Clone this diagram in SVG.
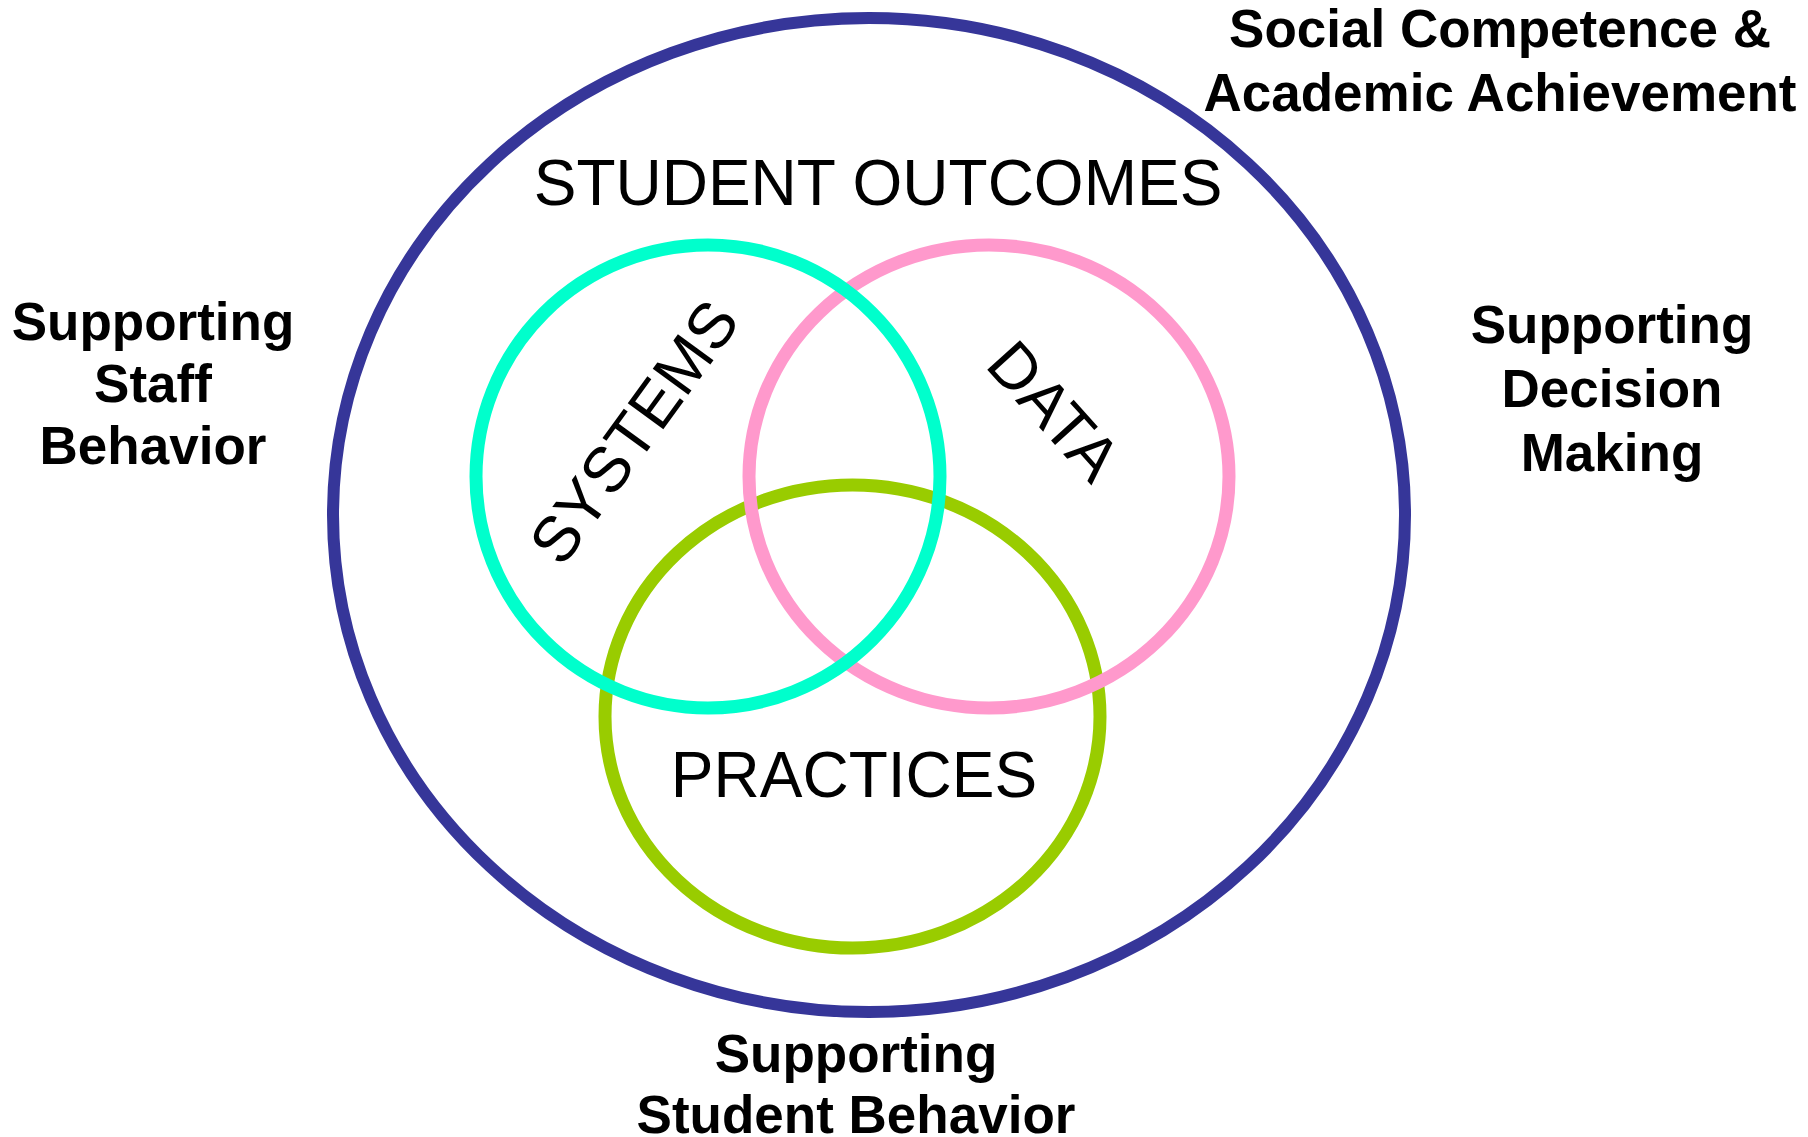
<svg xmlns="http://www.w3.org/2000/svg" width="1808" height="1137" viewBox="0 0 1808 1137">
<style>
.ring{fill:none}
.inner{font-family:"Liberation Sans",Arial,sans-serif;font-size:64px;fill:#000;text-anchor:middle}
.lbl{font-family:"Liberation Sans",Arial,sans-serif;font-size:53px;font-weight:bold;fill:#000;text-anchor:middle}
</style>
<rect width="1808" height="1137" fill="#fff"/>
<g id="outer">
<ellipse class="ring" cx="869" cy="515" rx="536" ry="497" stroke="#363699" stroke-width="12"/>
<text class="inner" x="878" y="205">STUDENT OUTCOMES</text>
</g>
<g id="practices">
<ellipse class="ring" cx="852.5" cy="716.5" rx="247.5" ry="231.5" stroke="#99CC00" stroke-width="13"/>
<text class="inner" x="854" y="797">PRACTICES</text>
</g>
<g id="data">
<ellipse class="ring" cx="989" cy="476.5" rx="240" ry="231.5" stroke="#FF99CC" stroke-width="13"/>
<text class="inner" transform="translate(1054,411) rotate(48)" x="0" y="22" font-size="62">DATA</text>
</g>
<g id="systems">
<ellipse class="ring" cx="708" cy="476.5" rx="232" ry="231.5" stroke="#00FFCC" stroke-width="13"/>
<text class="inner" transform="translate(634,432) rotate(-54)" x="0" y="22" font-size="62">SYSTEMS</text>
</g>
<g id="social-competence">
<text class="lbl" x="1500" y="47">Social Competence &amp;</text>
<text class="lbl" x="1500" y="111">Academic Achievement</text>
</g>
<g id="staff-behavior">
<text class="lbl" x="153" y="340">Supporting</text>
<text class="lbl" x="153" y="402">Staff</text>
<text class="lbl" x="153" y="464">Behavior</text>
</g>
<g id="decision-making">
<text class="lbl" x="1612" y="343">Supporting</text>
<text class="lbl" x="1612" y="407">Decision</text>
<text class="lbl" x="1612" y="471">Making</text>
</g>
<g id="student-behavior">
<text class="lbl" x="856" y="1072">Supporting</text>
<text class="lbl" x="856" y="1133">Student Behavior</text>
</g>
<g id="connectors"/>
</svg>
